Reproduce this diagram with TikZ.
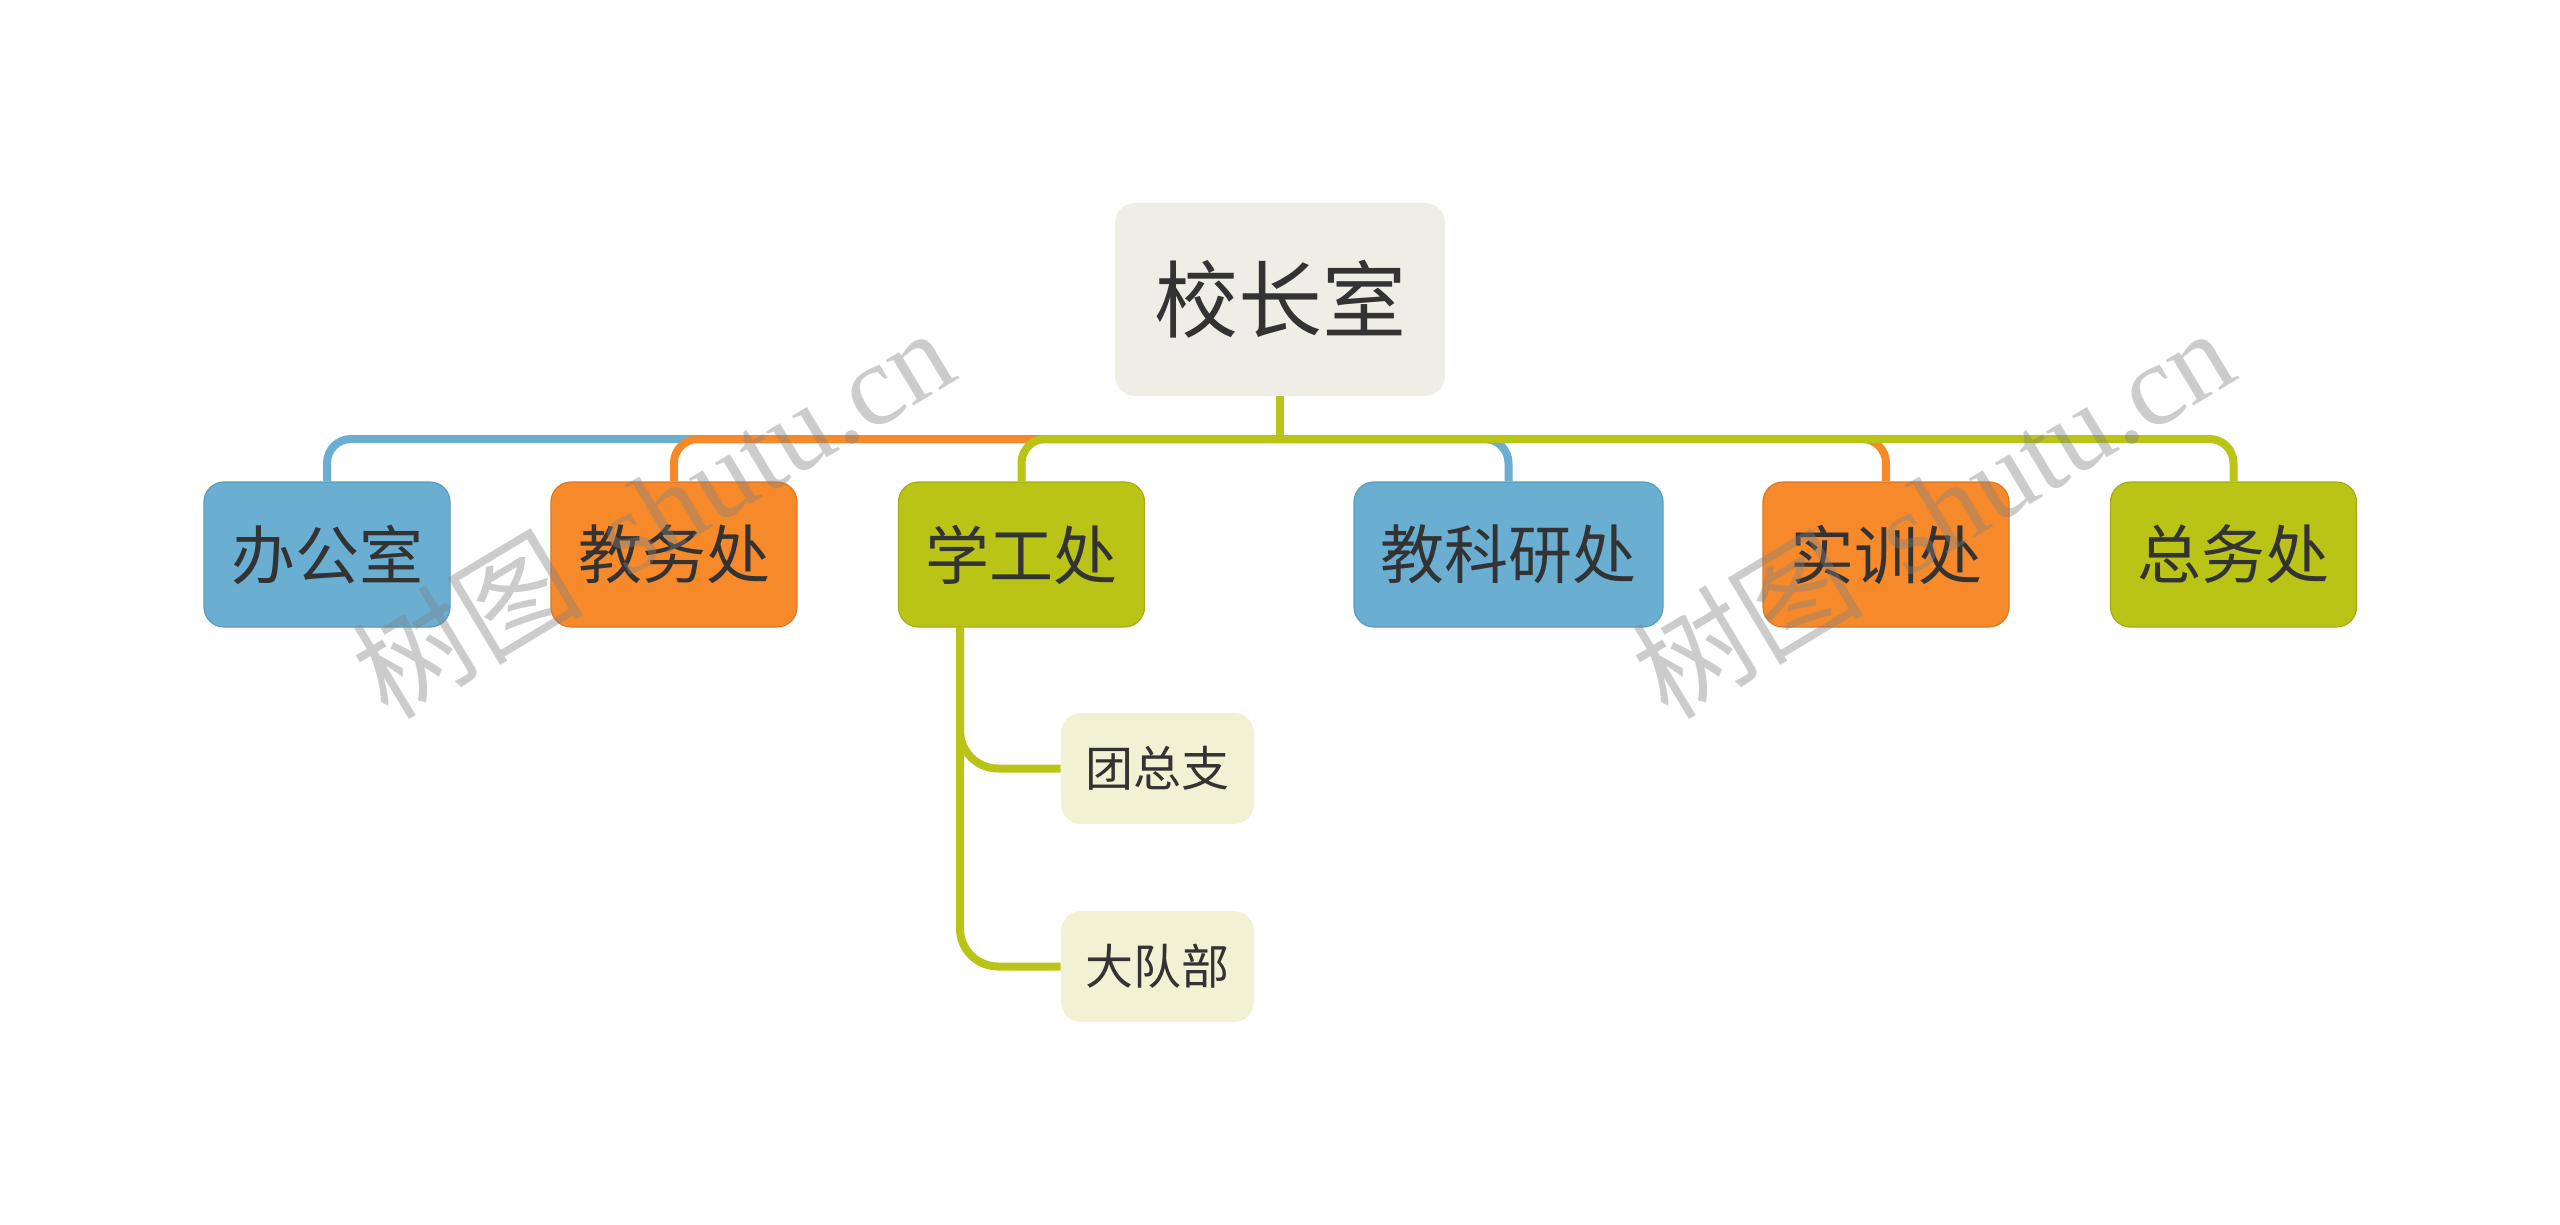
\documentclass[tikz,border=0pt]{standalone}
\usepackage{fontspec}
\setmainfont{Liberation Serif}
\newfontfamily\cjk{Noto Sans CJK SC}
\definecolor{cblue}{HTML}{6AAFD2}
\definecolor{corange}{HTML}{F68A2B}
\definecolor{cgreen}{HTML}{B9C416}
\definecolor{croot}{HTML}{EFEEE6}
\definecolor{csub}{HTML}{F1F2D4}
\definecolor{ctext}{HTML}{333333}
\definecolor{cwm}{HTML}{808080}
\begin{document}
\begin{tikzpicture}[x=0.5pt,y=-0.5pt,
  box/.style={rectangle, rounded corners=10pt, inner sep=0pt, text=ctext,
    font=\cjk\fontsize{32}{38}\selectfont, minimum height=72.5pt, minimum width=123pt},
  bluebox/.style={box, fill=cblue, draw=cblue!88!black, line width=0.6pt},
  orangebox/.style={box, fill=corange, draw=corange!88!black, line width=0.6pt},
  greenbox/.style={box, fill=cgreen, draw=cgreen!88!black, line width=0.6pt},
  rootbox/.style={box, fill=croot, minimum width=165pt, minimum height=96.5pt,
    font=\cjk\fontsize{42}{50}\selectfont},
  subbox/.style={box, fill=csub, minimum width=96.5pt, minimum height=55.5pt,
    font=\cjk\fontsize{24}{28}\selectfont},
  link/.style={line width=4pt, rounded corners=12pt},
  sublink/.style={line width=4pt, rounded corners=19pt, draw=cgreen},
  wmark/.style={rotate=31, text=cwm, opacity=0.4, inner sep=0pt,
    font=\fontsize{58}{66}\selectfont}
]
\fill[white] (0,0) rectangle (2560,1225);
\useasboundingbox (0,0) rectangle (2560,1225);

% nodes
\node[rootbox] (root) at (1280,299.5) {校长室};
\node[bluebox]   (c1) at (327,554.5)    {办公室};
\node[orangebox] (c2) at (674,554.5)    {教务处};
\node[greenbox]  (c3) at (1021.5,554.5) {学工处};
\node[bluebox, minimum width=154.5pt] (c4) at (1508.5,554.5) {教科研处};
\node[orangebox] (c5) at (1886,554.5)   {实训处};
\node[greenbox]  (c6) at (2233.5,554.5) {总务处};
\node[subbox] (s1) at (1157.5,768.5) {团总支};
\node[subbox] (s2) at (1157.5,966.5) {大队部};

\coordinate (hub) at (1280,439);
\coordinate (xg) at (960,627);

% connectors
\draw[link, cblue]   (hub) -| (c1.north);
\draw[link, corange] (hub) -| (c2.north);
\draw[link, cblue]   (hub) -| (c4.north);
\draw[link, corange] (hub) -| (c5.north);
\draw[link, cgreen]  (hub) -| (c3.north);
\draw[link, cgreen]  (hub) -| (c6.north);
\draw[line width=4pt, cgreen] (root.south) -- ([yshift=-2pt]hub);
\draw[sublink] (xg) |- (s1.west);
\draw[sublink] (xg) |- (s2.west);

% watermarks
\node[wmark] (wm1) at (652,512) {{\cjk 树图}\hspace{0.15em} shutu.cn};
\node[wmark] (wm2) at (1932,512) {{\cjk 树图}\hspace{0.15em} shutu.cn};
\end{tikzpicture}
\end{document}
